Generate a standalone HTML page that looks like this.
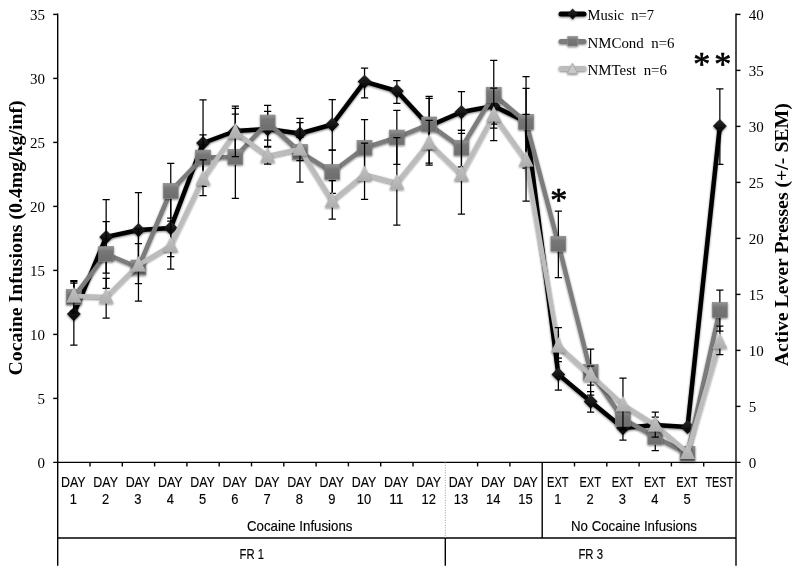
<!DOCTYPE html>
<html><head><meta charset="utf-8"><title>Chart</title>
<style>
html,body{margin:0;padding:0;background:#fff;}
svg{display:block;}
.ser{font-family:"Liberation Serif",serif;}
.san{font-family:"Liberation Sans",sans-serif;}
</style></head><body>
<svg width="800" height="576" viewBox="0 0 800 576">
<defs>
<filter id="sh" x="-20%" y="-20%" width="140%" height="140%"><feGaussianBlur in="SourceAlpha" stdDeviation="0.8"/><feOffset dx="0.3" dy="1.1" result="b"/><feComponentTransfer><feFuncA type="linear" slope="0.5"/></feComponentTransfer><feMerge><feMergeNode/><feMergeNode in="SourceGraphic"/></feMerge></filter>
<linearGradient id="gc" x1="0" y1="0" x2="0" y2="1"><stop offset="0" stop-color="#939393"/><stop offset="0.32" stop-color="#767676"/><stop offset="1" stop-color="#6d6d6d"/></linearGradient>
<linearGradient id="gt" x1="0" y1="0" x2="0" y2="1"><stop offset="0" stop-color="#c4c4c4"/><stop offset="1" stop-color="#adadad"/></linearGradient>
<linearGradient id="gm" x1="0" y1="0" x2="0" y2="1"><stop offset="0" stop-color="#2a2a2a"/><stop offset="1" stop-color="#000"/></linearGradient>
</defs>
<rect width="800" height="576" fill="#fff"/>

<g stroke="#000" stroke-width="1.4" fill="none">
<line x1="57.7" y1="13.5" x2="57.7" y2="565.8"/>
<line x1="736.0" y1="13.5" x2="736.0" y2="565.8"/>
<line x1="53.2" y1="462.4" x2="740.5" y2="462.4"/>
<line x1="57.7" y1="538" x2="736.0" y2="538"/>
<line x1="53.2" y1="398.4" x2="57.7" y2="398.4"/>
<line x1="53.2" y1="334.4" x2="57.7" y2="334.4"/>
<line x1="53.2" y1="270.4" x2="57.7" y2="270.4"/>
<line x1="53.2" y1="206.39999999999998" x2="57.7" y2="206.39999999999998"/>
<line x1="53.2" y1="142.39999999999998" x2="57.7" y2="142.39999999999998"/>
<line x1="53.2" y1="78.39999999999998" x2="57.7" y2="78.39999999999998"/>
<line x1="53.2" y1="14.399999999999977" x2="57.7" y2="14.399999999999977"/>
<line x1="736.0" y1="406.4" x2="740.5" y2="406.4"/>
<line x1="736.0" y1="350.4" x2="740.5" y2="350.4"/>
<line x1="736.0" y1="294.4" x2="740.5" y2="294.4"/>
<line x1="736.0" y1="238.39999999999998" x2="740.5" y2="238.39999999999998"/>
<line x1="736.0" y1="182.39999999999998" x2="740.5" y2="182.39999999999998"/>
<line x1="736.0" y1="126.39999999999998" x2="740.5" y2="126.39999999999998"/>
<line x1="736.0" y1="70.39999999999998" x2="740.5" y2="70.39999999999998"/>
<line x1="736.0" y1="14.399999999999977" x2="740.5" y2="14.399999999999977"/>
<line x1="90.00" y1="462.4" x2="90.00" y2="466.4"/>
<line x1="122.30" y1="462.4" x2="122.30" y2="466.4"/>
<line x1="154.60" y1="462.4" x2="154.60" y2="466.4"/>
<line x1="186.90" y1="462.4" x2="186.90" y2="466.4"/>
<line x1="219.20" y1="462.4" x2="219.20" y2="466.4"/>
<line x1="251.50" y1="462.4" x2="251.50" y2="466.4"/>
<line x1="283.80" y1="462.4" x2="283.80" y2="466.4"/>
<line x1="316.10" y1="462.4" x2="316.10" y2="466.4"/>
<line x1="348.40" y1="462.4" x2="348.40" y2="466.4"/>
<line x1="380.70" y1="462.4" x2="380.70" y2="466.4"/>
<line x1="413.00" y1="462.4" x2="413.00" y2="466.4"/>
<line x1="477.60" y1="462.4" x2="477.60" y2="466.4"/>
<line x1="509.90" y1="462.4" x2="509.90" y2="466.4"/>
<line x1="574.50" y1="462.4" x2="574.50" y2="466.4"/>
<line x1="606.80" y1="462.4" x2="606.80" y2="466.4"/>
<line x1="639.10" y1="462.4" x2="639.10" y2="466.4"/>
<line x1="671.40" y1="462.4" x2="671.40" y2="466.4"/>
<line x1="703.70" y1="462.4" x2="703.70" y2="466.4"/>
<line x1="542.20" y1="462.4" x2="542.20" y2="538"/>
<line x1="445.30" y1="538" x2="445.30" y2="565.8"/>
</g>
<line x1="445.30" y1="462.4" x2="445.30" y2="538" stroke="#999" stroke-width="1" stroke-dasharray="1,1.5"/>
<g class="ser" font-size="15" fill="#000">
<text x="45.0" y="467.59999999999997" text-anchor="end">0</text>
<text x="45.0" y="403.59999999999997" text-anchor="end">5</text>
<text x="45.0" y="339.59999999999997" text-anchor="end">10</text>
<text x="45.0" y="275.59999999999997" text-anchor="end">15</text>
<text x="45.0" y="211.59999999999997" text-anchor="end">20</text>
<text x="45.0" y="147.59999999999997" text-anchor="end">25</text>
<text x="45.0" y="83.59999999999998" text-anchor="end">30</text>
<text x="45.0" y="19.599999999999977" text-anchor="end">35</text>
<text x="748.7" y="467.59999999999997">0</text>
<text x="748.7" y="411.59999999999997">5</text>
<text x="748.7" y="355.59999999999997">10</text>
<text x="748.7" y="299.59999999999997">15</text>
<text x="748.7" y="243.59999999999997">20</text>
<text x="748.7" y="187.59999999999997">25</text>
<text x="748.7" y="131.59999999999997">30</text>
<text x="748.7" y="75.59999999999998">35</text>
<text x="748.7" y="19.599999999999977">40</text>
</g>
<g class="ser" font-weight="bold" font-size="19.6" fill="#000">
<text transform="translate(22.3,237.9) rotate(-90)" text-anchor="middle" textLength="275" lengthAdjust="spacingAndGlyphs">Cocaine Infusions (0.4mg/kg/inf)</text>
<text transform="translate(787.8,234.7) rotate(-90)" text-anchor="middle" textLength="263" lengthAdjust="spacingAndGlyphs">Active Lever Presses (+/- SEM)</text>
</g>
<g class="san" font-size="14.4" fill="#000" stroke="#000" stroke-width="0.15" text-anchor="middle">
<text x="73.35" y="486.6" textLength="24.6" lengthAdjust="spacingAndGlyphs">DAY</text>
<text x="73.35" y="503.7" textLength="7.2" lengthAdjust="spacingAndGlyphs">1</text>
<text x="105.65" y="486.6" textLength="24.6" lengthAdjust="spacingAndGlyphs">DAY</text>
<text x="105.65" y="503.7" textLength="7.2" lengthAdjust="spacingAndGlyphs">2</text>
<text x="137.95" y="486.6" textLength="24.6" lengthAdjust="spacingAndGlyphs">DAY</text>
<text x="137.95" y="503.7" textLength="7.2" lengthAdjust="spacingAndGlyphs">3</text>
<text x="170.25" y="486.6" textLength="24.6" lengthAdjust="spacingAndGlyphs">DAY</text>
<text x="170.25" y="503.7" textLength="7.2" lengthAdjust="spacingAndGlyphs">4</text>
<text x="202.55" y="486.6" textLength="24.6" lengthAdjust="spacingAndGlyphs">DAY</text>
<text x="202.55" y="503.7" textLength="7.2" lengthAdjust="spacingAndGlyphs">5</text>
<text x="234.85" y="486.6" textLength="24.6" lengthAdjust="spacingAndGlyphs">DAY</text>
<text x="234.85" y="503.7" textLength="7.2" lengthAdjust="spacingAndGlyphs">6</text>
<text x="267.15" y="486.6" textLength="24.6" lengthAdjust="spacingAndGlyphs">DAY</text>
<text x="267.15" y="503.7" textLength="7.2" lengthAdjust="spacingAndGlyphs">7</text>
<text x="299.45" y="486.6" textLength="24.6" lengthAdjust="spacingAndGlyphs">DAY</text>
<text x="299.45" y="503.7" textLength="7.2" lengthAdjust="spacingAndGlyphs">8</text>
<text x="331.75" y="486.6" textLength="24.6" lengthAdjust="spacingAndGlyphs">DAY</text>
<text x="331.75" y="503.7" textLength="7.2" lengthAdjust="spacingAndGlyphs">9</text>
<text x="364.05" y="486.6" textLength="24.6" lengthAdjust="spacingAndGlyphs">DAY</text>
<text x="364.05" y="503.7" textLength="14.4" lengthAdjust="spacingAndGlyphs">10</text>
<text x="396.35" y="486.6" textLength="24.6" lengthAdjust="spacingAndGlyphs">DAY</text>
<text x="396.35" y="503.7" textLength="14.4" lengthAdjust="spacingAndGlyphs">11</text>
<text x="428.65" y="486.6" textLength="24.6" lengthAdjust="spacingAndGlyphs">DAY</text>
<text x="428.65" y="503.7" textLength="14.4" lengthAdjust="spacingAndGlyphs">12</text>
<text x="460.95" y="486.6" textLength="24.6" lengthAdjust="spacingAndGlyphs">DAY</text>
<text x="460.95" y="503.7" textLength="14.4" lengthAdjust="spacingAndGlyphs">13</text>
<text x="493.25" y="486.6" textLength="24.6" lengthAdjust="spacingAndGlyphs">DAY</text>
<text x="493.25" y="503.7" textLength="14.4" lengthAdjust="spacingAndGlyphs">14</text>
<text x="525.55" y="486.6" textLength="24.6" lengthAdjust="spacingAndGlyphs">DAY</text>
<text x="525.55" y="503.7" textLength="14.4" lengthAdjust="spacingAndGlyphs">15</text>
<text x="557.85" y="486.6" textLength="21.5" lengthAdjust="spacingAndGlyphs">EXT</text>
<text x="557.85" y="503.7" textLength="7.2" lengthAdjust="spacingAndGlyphs">1</text>
<text x="590.15" y="486.6" textLength="21.5" lengthAdjust="spacingAndGlyphs">EXT</text>
<text x="590.15" y="503.7" textLength="7.2" lengthAdjust="spacingAndGlyphs">2</text>
<text x="622.45" y="486.6" textLength="21.5" lengthAdjust="spacingAndGlyphs">EXT</text>
<text x="622.45" y="503.7" textLength="7.2" lengthAdjust="spacingAndGlyphs">3</text>
<text x="654.75" y="486.6" textLength="21.5" lengthAdjust="spacingAndGlyphs">EXT</text>
<text x="654.75" y="503.7" textLength="7.2" lengthAdjust="spacingAndGlyphs">4</text>
<text x="687.05" y="486.6" textLength="21.5" lengthAdjust="spacingAndGlyphs">EXT</text>
<text x="687.05" y="503.7" textLength="7.2" lengthAdjust="spacingAndGlyphs">5</text>
<text x="719.35" y="486.6" textLength="27.8" lengthAdjust="spacingAndGlyphs">TEST</text>
<text x="299.7" y="530.6" textLength="105.4" lengthAdjust="spacingAndGlyphs">Cocaine Infusions</text>
<text x="634" y="530.6" textLength="126" lengthAdjust="spacingAndGlyphs">No Cocaine Infusions</text>
<text x="251.8" y="558.6" textLength="24.4" lengthAdjust="spacingAndGlyphs">FR 1</text>
<text x="590.7" y="558.6" textLength="24.6" lengthAdjust="spacingAndGlyphs">FR 3</text>
</g>
<g fill="none" stroke-linejoin="round" stroke-linecap="round" filter="url(#sh)">
<polyline points="73.85,314 106.15,237 138.45,230 170.75,228 203.05,143 235.35,131 267.65,129 299.95,133.5 332.25,124.5 364.55,81.6 396.85,91 429.15,126 461.45,112 493.75,106 526.05,122 558.35,374.4 590.65,401.5 622.95,428 655.25,425 687.55,427 719.85,126" stroke="#000" stroke-width="4.5"/>
</g>
<g stroke="#000" stroke-width="1.25" fill="none">
<path d="M73.85 283V345M70.25 283H77.45M70.25 345H77.45"/>
<path d="M106.15 199.6V273M102.55 199.6H109.75M102.55 273H109.75"/>
<path d="M138.45 192.6V267.5M134.85 192.6H142.05M134.85 267.5H142.05"/>
<path d="M170.75 197.3V256.7M167.15 197.3H174.35M167.15 256.7H174.35"/>
<path d="M203.05 99.9V186.4M199.45 99.9H206.65M199.45 186.4H206.65"/>
<path d="M235.35 106V156M231.75 106H238.95M231.75 156H238.95"/>
<path d="M267.65 111.4V146.4M264.05 111.4H271.25M264.05 146.4H271.25"/>
<path d="M299.95 118.4V148.4M296.35 118.4H303.55M296.35 148.4H303.55"/>
<path d="M332.25 99.5V150M328.65 99.5H335.85M328.65 150H335.85"/>
<path d="M364.55 68V97.8M360.95 68H368.15M360.95 97.8H368.15"/>
<path d="M396.85 80.6V103.4M393.25 80.6H400.45M393.25 103.4H400.45"/>
<path d="M429.15 96.25V163M425.55 96.25H432.75M425.55 163H432.75"/>
<path d="M461.45 91.7V130.3M457.85 91.7H465.05M457.85 130.3H465.05"/>
<path d="M493.75 88.4V124M490.15 88.4H497.35M490.15 124H497.35"/>
<path d="M526.05 88.4V156M522.45 88.4H529.65M522.45 156H529.65"/>
<path d="M558.35 358V390M554.75 358H561.95M554.75 390H561.95"/>
<path d="M590.65 391.5V412M587.05 391.5H594.25M587.05 412H594.25"/>
<path d="M622.95 416V440M619.35 416H626.55M619.35 440H626.55"/>
<path d="M655.25 417V433M651.65 417H658.85M651.65 433H658.85"/>
<path d="M719.85 88.9V164.4M716.25 88.9H723.45M716.25 164.4H723.45"/>
</g>
<g filter="url(#sh)">
<path d="M73.85 307.1L80.75 314L73.85 320.9L66.95 314Z" fill="url(#gm)"/>
<path d="M106.15 230.1L113.05 237L106.15 243.9L99.25 237Z" fill="url(#gm)"/>
<path d="M138.45 223.1L145.35 230L138.45 236.9L131.55 230Z" fill="url(#gm)"/>
<path d="M170.75 221.1L177.65 228L170.75 234.9L163.85 228Z" fill="url(#gm)"/>
<path d="M203.05 136.1L209.95 143L203.05 149.9L196.15 143Z" fill="url(#gm)"/>
<path d="M235.35 124.1L242.25 131L235.35 137.9L228.45 131Z" fill="url(#gm)"/>
<path d="M267.65 122.1L274.55 129L267.65 135.9L260.75 129Z" fill="url(#gm)"/>
<path d="M299.95 126.6L306.85 133.5L299.95 140.4L293.05 133.5Z" fill="url(#gm)"/>
<path d="M332.25 117.6L339.15 124.5L332.25 131.4L325.35 124.5Z" fill="url(#gm)"/>
<path d="M364.55 74.69999999999999L371.45 81.6L364.55 88.5L357.65 81.6Z" fill="url(#gm)"/>
<path d="M396.85 84.1L403.75 91L396.85 97.9L389.95 91Z" fill="url(#gm)"/>
<path d="M429.15 119.1L436.05 126L429.15 132.9L422.25 126Z" fill="url(#gm)"/>
<path d="M461.45 105.1L468.35 112L461.45 118.9L454.55 112Z" fill="url(#gm)"/>
<path d="M493.75 99.1L500.65 106L493.75 112.9L486.85 106Z" fill="url(#gm)"/>
<path d="M526.05 115.1L532.95 122L526.05 128.9L519.15 122Z" fill="url(#gm)"/>
<path d="M558.35 367.5L565.25 374.4L558.35 381.29999999999995L551.45 374.4Z" fill="url(#gm)"/>
<path d="M590.65 394.6L597.55 401.5L590.65 408.4L583.75 401.5Z" fill="url(#gm)"/>
<path d="M622.95 421.1L629.85 428L622.95 434.9L616.05 428Z" fill="url(#gm)"/>
<path d="M655.25 418.1L662.15 425L655.25 431.9L648.35 425Z" fill="url(#gm)"/>
<path d="M687.55 420.1L694.45 427L687.55 433.9L680.65 427Z" fill="url(#gm)"/>
<path d="M719.85 119.1L726.75 126L719.85 132.9L712.95 126Z" fill="url(#gm)"/>
</g>
<g fill="none" stroke-linejoin="round" stroke-linecap="round" filter="url(#sh)">
<polyline points="73.85,297 106.15,254 138.45,267.5 170.75,191 203.05,157.5 235.35,157 267.65,122.5 299.95,152 332.25,172 364.55,147.8 396.85,137.5 429.15,124.4 461.45,147.8 493.75,94.7 526.05,122 558.35,243.75 590.65,372 622.95,418.75 655.25,437 687.55,453.75 719.85,310" stroke="#7c7c7c" stroke-width="4.5"/>
</g>
<g stroke="#000" stroke-width="1.25" fill="none">
<path d="M73.85 280.6V313M70.25 280.6H77.45M70.25 313H77.45"/>
<path d="M106.15 221.5V288.4M102.55 221.5H109.75M102.55 288.4H109.75"/>
<path d="M138.45 243.7V283.5M134.85 243.7H142.05M134.85 283.5H142.05"/>
<path d="M170.75 163.3V218M167.15 163.3H174.35M167.15 218H174.35"/>
<path d="M203.05 134.8V180.2M199.45 134.8H206.65M199.45 180.2H206.65"/>
<path d="M235.35 114V198.4M231.75 114H238.95M231.75 198.4H238.95"/>
<path d="M267.65 105.4V140.1M264.05 105.4H271.25M264.05 140.1H271.25"/>
<path d="M299.95 122.5V182M296.35 122.5H303.55M296.35 182H303.55"/>
<path d="M332.25 150V193.4M328.65 150H335.85M328.65 193.4H335.85"/>
<path d="M364.55 119.7V175.9M360.95 119.7H368.15M360.95 175.9H368.15"/>
<path d="M396.85 110.3V164.4M393.25 110.3H400.45M393.25 164.4H400.45"/>
<path d="M429.15 98.4V149.6M425.55 98.4H432.75M425.55 149.6H432.75"/>
<path d="M461.45 130.3V166.8M457.85 130.3H465.05M457.85 166.8H465.05"/>
<path d="M493.75 60.3V128M490.15 60.3H497.35M490.15 128H497.35"/>
<path d="M526.05 76.6V168M522.45 76.6H529.65M522.45 168H529.65"/>
<path d="M558.35 211V277.5M554.75 211H561.95M554.75 277.5H561.95"/>
<path d="M590.65 349V395M587.05 349H594.25M587.05 395H594.25"/>
<path d="M622.95 410V427.5M619.35 410H626.55M619.35 427.5H626.55"/>
<path d="M655.25 423.4V450.6M651.65 423.4H658.85M651.65 450.6H658.85"/>
<path d="M719.85 290V331M716.25 290H723.45M716.25 331H723.45"/>
</g>
<g filter="url(#sh)">
<rect x="66.45" y="289.6" width="14.8" height="14.8" fill="url(#gc)" stroke="#858585" stroke-width="0.7"/>
<rect x="98.75" y="246.6" width="14.8" height="14.8" fill="url(#gc)" stroke="#858585" stroke-width="0.7"/>
<rect x="131.05" y="260.1" width="14.8" height="14.8" fill="url(#gc)" stroke="#858585" stroke-width="0.7"/>
<rect x="163.35" y="183.6" width="14.8" height="14.8" fill="url(#gc)" stroke="#858585" stroke-width="0.7"/>
<rect x="195.65" y="150.1" width="14.8" height="14.8" fill="url(#gc)" stroke="#858585" stroke-width="0.7"/>
<rect x="227.95" y="149.6" width="14.8" height="14.8" fill="url(#gc)" stroke="#858585" stroke-width="0.7"/>
<rect x="260.25" y="115.1" width="14.8" height="14.8" fill="url(#gc)" stroke="#858585" stroke-width="0.7"/>
<rect x="292.55" y="144.6" width="14.8" height="14.8" fill="url(#gc)" stroke="#858585" stroke-width="0.7"/>
<rect x="324.85" y="164.6" width="14.8" height="14.8" fill="url(#gc)" stroke="#858585" stroke-width="0.7"/>
<rect x="357.15" y="140.4" width="14.8" height="14.8" fill="url(#gc)" stroke="#858585" stroke-width="0.7"/>
<rect x="389.45" y="130.1" width="14.8" height="14.8" fill="url(#gc)" stroke="#858585" stroke-width="0.7"/>
<rect x="421.75" y="117.0" width="14.8" height="14.8" fill="url(#gc)" stroke="#858585" stroke-width="0.7"/>
<rect x="454.05" y="140.4" width="14.8" height="14.8" fill="url(#gc)" stroke="#858585" stroke-width="0.7"/>
<rect x="486.35" y="87.3" width="14.8" height="14.8" fill="url(#gc)" stroke="#858585" stroke-width="0.7"/>
<rect x="518.65" y="114.6" width="14.8" height="14.8" fill="url(#gc)" stroke="#858585" stroke-width="0.7"/>
<rect x="550.95" y="236.35" width="14.8" height="14.8" fill="url(#gc)" stroke="#858585" stroke-width="0.7"/>
<rect x="583.25" y="364.6" width="14.8" height="14.8" fill="url(#gc)" stroke="#858585" stroke-width="0.7"/>
<rect x="615.55" y="411.35" width="14.8" height="14.8" fill="url(#gc)" stroke="#858585" stroke-width="0.7"/>
<rect x="647.85" y="429.6" width="14.8" height="14.8" fill="url(#gc)" stroke="#858585" stroke-width="0.7"/>
<rect x="680.15" y="446.35" width="14.8" height="14.8" fill="url(#gc)" stroke="#858585" stroke-width="0.7"/>
<rect x="712.45" y="302.6" width="14.8" height="14.8" fill="url(#gc)" stroke="#858585" stroke-width="0.7"/>
</g>
<g fill="none" stroke-linejoin="round" stroke-linecap="round" filter="url(#sh)">
<polyline points="73.85,296 106.15,297 138.45,265 170.75,245.6 203.05,178.75 235.35,132 267.65,156 299.95,149 332.25,201 364.55,174.4 396.85,183 429.15,143 461.45,174.4 493.75,115 526.05,160 558.35,346 590.65,375 622.95,404.7 655.25,425 687.55,452.5 719.85,342" stroke="#bcbcbc" stroke-width="4.5"/>
</g>
<g stroke="#000" stroke-width="1.25" fill="none">
<path d="M73.85 281.5V311M70.25 281.5H77.45M70.25 311H77.45"/>
<path d="M106.15 278.3V318.2M102.55 278.3H109.75M102.55 318.2H109.75"/>
<path d="M138.45 229V301M134.85 229H142.05M134.85 301H142.05"/>
<path d="M170.75 221V269.2M167.15 221H174.35M167.15 269.2H174.35"/>
<path d="M203.05 159.8V195.6M199.45 159.8H206.65M199.45 195.6H206.65"/>
<path d="M235.35 108.4V156.7M231.75 108.4H238.95M231.75 156.7H238.95"/>
<path d="M267.65 147V164M264.05 147H271.25M264.05 164H271.25"/>
<path d="M299.95 137.4V160.6M296.35 137.4H303.55M296.35 160.6H303.55"/>
<path d="M332.25 180.6V219.2M328.65 180.6H335.85M328.65 219.2H335.85"/>
<path d="M364.55 143V199.4M360.95 143H368.15M360.95 199.4H368.15"/>
<path d="M396.85 137.5V225M393.25 137.5H400.45M393.25 225H400.45"/>
<path d="M429.15 120.3V165M425.55 120.3H432.75M425.55 165H432.75"/>
<path d="M461.45 133.4V214M457.85 133.4H465.05M457.85 214H465.05"/>
<path d="M493.75 88.2V140.6M490.15 88.2H497.35M490.15 140.6H497.35"/>
<path d="M526.05 114.4V201M522.45 114.4H529.65M522.45 201H529.65"/>
<path d="M558.35 327.5V361.5M554.75 327.5H561.95M554.75 361.5H561.95"/>
<path d="M590.65 366V385M587.05 366H594.25M587.05 385H594.25"/>
<path d="M622.95 378V429.7M619.35 378H626.55M619.35 429.7H626.55"/>
<path d="M655.25 412V437M651.65 412H658.85M651.65 437H658.85"/>
<path d="M719.85 326V354.7M716.25 326H723.45M716.25 354.7H723.45"/>
</g>
<g filter="url(#sh)">
<path d="M73.85 287.0L81.35 302.5L66.35 302.5Z" fill="url(#gt)"/>
<path d="M106.15 288.0L113.65 303.5L98.65 303.5Z" fill="url(#gt)"/>
<path d="M138.45 256.0L145.95 271.5L130.95 271.5Z" fill="url(#gt)"/>
<path d="M170.75 236.6L178.25 252.1L163.25 252.1Z" fill="url(#gt)"/>
<path d="M203.05 169.75L210.55 185.25L195.55 185.25Z" fill="url(#gt)"/>
<path d="M235.35 123.0L242.85 138.5L227.85 138.5Z" fill="url(#gt)"/>
<path d="M267.65 147.0L275.15 162.5L260.15 162.5Z" fill="url(#gt)"/>
<path d="M299.95 140.0L307.45 155.5L292.45 155.5Z" fill="url(#gt)"/>
<path d="M332.25 192.0L339.75 207.5L324.75 207.5Z" fill="url(#gt)"/>
<path d="M364.55 165.4L372.05 180.9L357.05 180.9Z" fill="url(#gt)"/>
<path d="M396.85 174.0L404.35 189.5L389.35 189.5Z" fill="url(#gt)"/>
<path d="M429.15 134.0L436.65 149.5L421.65 149.5Z" fill="url(#gt)"/>
<path d="M461.45 165.4L468.95 180.9L453.95 180.9Z" fill="url(#gt)"/>
<path d="M493.75 106.0L501.25 121.5L486.25 121.5Z" fill="url(#gt)"/>
<path d="M526.05 151.0L533.55 166.5L518.55 166.5Z" fill="url(#gt)"/>
<path d="M558.35 337.0L565.85 352.5L550.85 352.5Z" fill="url(#gt)"/>
<path d="M590.65 366.0L598.15 381.5L583.15 381.5Z" fill="url(#gt)"/>
<path d="M622.95 395.7L630.45 411.2L615.45 411.2Z" fill="url(#gt)"/>
<path d="M655.25 416.0L662.75 431.5L647.75 431.5Z" fill="url(#gt)"/>
<path d="M687.55 443.5L695.05 459.0L680.05 459.0Z" fill="url(#gt)"/>
<path d="M719.85 333.0L727.35 348.5L712.35 348.5Z" fill="url(#gt)"/>
</g>
<g filter="url(#sh)" stroke-linecap="round">
<line x1="561" y1="14" x2="584" y2="14" stroke="#000" stroke-width="5"/>
<path d="M572.6 8.4L577.8 13.9L572.6 19.4L567.4 13.9Z" fill="url(#gm)"/>
<line x1="561" y1="41.5" x2="584" y2="41.5" stroke="#7c7c7c" stroke-width="5"/>
<rect x="567.8" y="36.6" width="9.6" height="9.4" fill="url(#gc)" stroke="#8e8e8e" stroke-width="0.7"/>
<line x1="561" y1="68.5" x2="584" y2="68.5" stroke="#bcbcbc" stroke-width="5"/>
<path d="M572.6 63.6L577.6 73.4L567.6 73.4Z" fill="#c9c9c9" stroke="#a2a2a2" stroke-width="0.8"/>
</g>
<g class="ser" font-size="14" fill="#000" style="white-space:pre">
<text x="587.5" y="20" textLength="66.5" lengthAdjust="spacingAndGlyphs" xml:space="preserve">Music  n=7</text>
<text x="587.5" y="47.6" textLength="87" lengthAdjust="spacingAndGlyphs" xml:space="preserve">NMCond  n=6</text>
<text x="587.5" y="74.8" textLength="79.5" lengthAdjust="spacingAndGlyphs" xml:space="preserve">NMTest  n=6</text>
</g>
<g class="ser" font-size="34" fill="#000" stroke="#000" stroke-width="0.7" stroke-linejoin="round" text-anchor="middle">
<text x="558.8" y="211.4">*</text>
<text x="701.7" y="75.2">*</text>
<text x="722.8" y="75.2">*</text>
</g>
</svg></body></html>
